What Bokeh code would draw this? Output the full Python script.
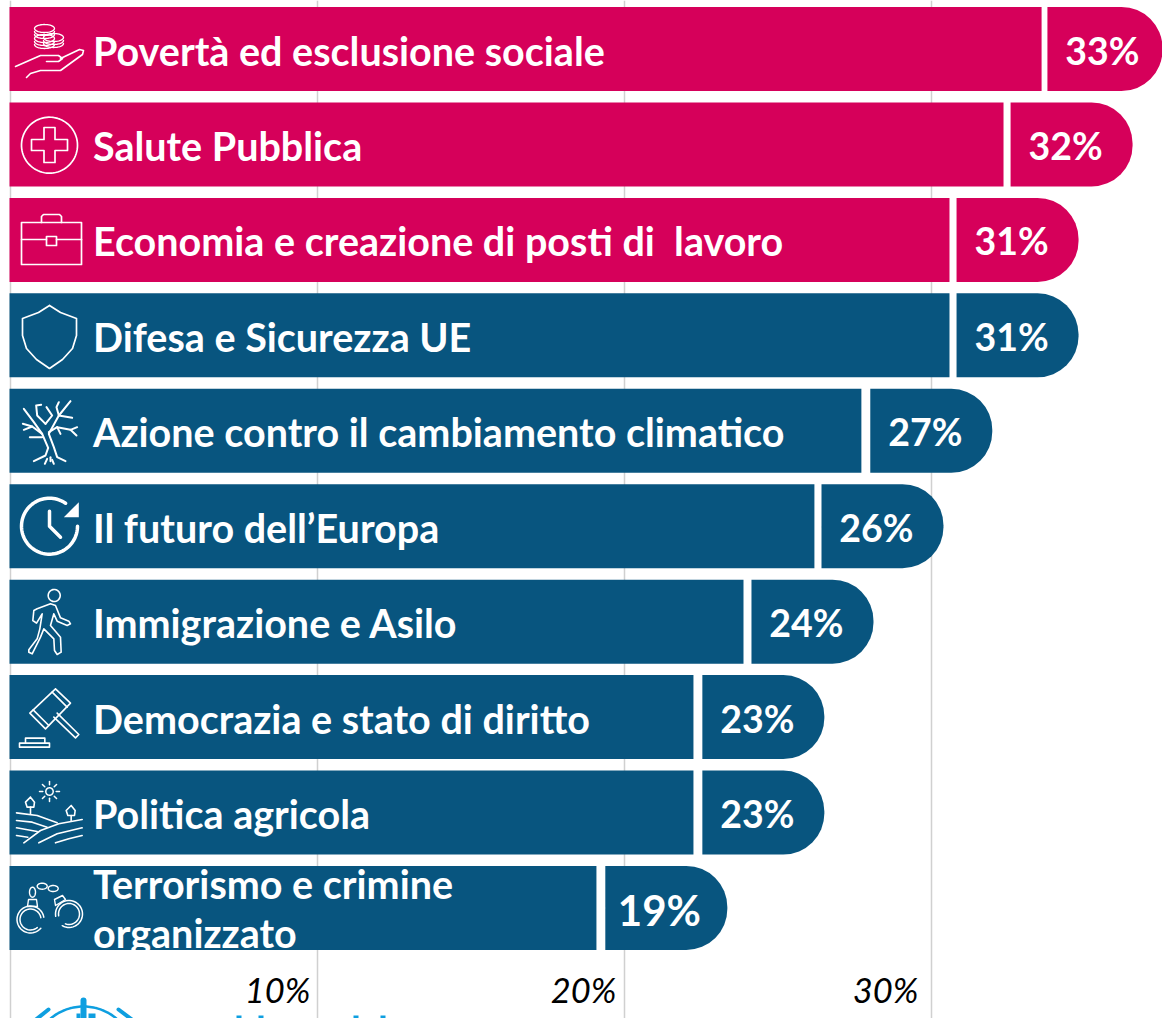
from bokeh.plotting import figure
from bokeh.models import Range1d, FixedTicker, ColumnDataSource
from bokeh.core.properties import value
from bokeh.embed import file_html
from bokeh.resources import INLINE
import numpy as np

# ---- data ----
categories = ["Povertà ed esclusione sociale", "Salute Pubblica",
              "Economia e creazione di posti di \u00a0lavoro", "Difesa e Sicurezza UE",
              "Azione contro il cambiamento climatico", "Il futuro dell’Europa",
              "Immigrazione e Asilo", "Democrazia e stato di diritto",
              "Politica agricola", "Terrorismo e crimine\norganizzato"]
bar_values = [33.57, 32.33, 30.57, 30.57, 27.70, 26.17, 23.86, 22.23, 22.23, 19.07]
cap_starts = [33.76, 32.56, 30.80, 30.80, 27.99, 26.40, 24.12, 22.52, 22.52, 19.36]
value_labels = ["33%", "32%", "31%", "31%", "27%", "26%", "24%", "23%", "23%", "19%"]
highlight = [1, 1, 1, 0, 0, 0, 0, 0, 0, 0]
tick_values = [10, 20, 30]
tick_labels = ["10%", "20%", "30%"]

PINK = "#D6005A"
BLUE = "#08557F"
SKY = "#0E9FE0"
GRID = "#D0D0D0"
FONT = value("Lato")

W, H = 1162, 1018
PX_TOP, PX_LEFT = 0, 0     # page position of the figure
SX, X0 = 30.7, 10.0        # page pixels per % / page x of 0%
SY, Y0 = 95.44, 48.5       # page pixels per row / page y of first row


def dx(px):
    return (np.asarray(px, dtype=float) - X0) / SX


def dy(py):
    return (np.asarray(py, dtype=float) - Y0) / SY


p = figure(width=W, height=H, output_backend="svg", toolbar_location=None,
           x_range=Range1d(float(dx(PX_LEFT)), float(dx(PX_LEFT + W))),
           y_range=Range1d(float(dy(PX_TOP + H)), float(dy(PX_TOP))),
           min_border=0, outline_line_color=None, background_fill_color="white",
           border_fill_color="white")
p.xaxis.visible = False
p.yaxis.visible = False
p.ygrid.visible = False
p.xgrid.ticker = FixedTicker(ticks=[0] + tick_values)
p.xgrid.grid_line_color = GRID
p.xgrid.grid_line_width = 1.5
p.xgrid.bounds = (float(dy(91)), float(dy(1030)))

rows = list(range(len(categories)))
colors = [PINK if h else BLUE for h in highlight]
cap_width = 122 / SX
src = ColumnDataSource(dict(y=rows, end=[v + 0.016 for v in bar_values], left=[float(dx(9))] * len(rows),
                            cap0=[c + 0.016 for c in cap_starts],
                            cap1=[c + 0.016 + cap_width for c in cap_starts],
                            color=colors, lab=value_labels))
p.hbar(y="y", left="left", right="end", height=84 / SY, fill_color="color", line_color=None, source=src)
p.hbar(y="y", left="cap0", right="cap1", height=84 / SY, fill_color="color", line_color=None,
       border_radius=(0, 41, 41, 0), source=src)

# value labels inside the caps (the last one is set larger in the original)
last = len(rows) - 1
p.text(x=src.data["cap0"][:last], y=rows[:last], text=value_labels[:last], text_font=FONT,
       text_font_style="bold", text_font_size="37.5px", text_color="white", text_align="center",
       text_baseline="alphabetic", x_offset=55, y_offset=1)
p.text(x=src.data["cap0"][last:], y=rows[last:], text=value_labels[last:], text_font=FONT,
       text_font_style="bold", text_font_size="42px", text_color="white", text_align="center",
       text_baseline="alphabetic", x_offset=54, y_offset=2)

# category labels
LABEL_SIZE = "39.5px"
for r, cat in zip(rows, categories):
    parts = cat.split("\n")
    if len(parts) == 1:
        p.text(x=[float(dx(92.5))], y=[r], text=[cat], text_font=FONT, text_font_style="bold",
               text_font_size=LABEL_SIZE, text_color="white", text_baseline="alphabetic", y_offset=1)
    else:
        p.text(x=[float(dx(92.5))], y=[r], text=[parts[0]], text_font=FONT, text_font_style="bold",
               text_font_size=LABEL_SIZE, text_color="white", text_baseline="alphabetic", y_offset=-24)
        p.text(x=[float(dx(92.5))], y=[r], text=[parts[1]], text_font=FONT, text_font_style="bold",
               text_font_size=LABEL_SIZE, text_color="white", text_baseline="alphabetic", y_offset=25)
# the second line is clipped by the bar's lower edge in the original
p.quad(left=[float(dx(88))], right=[float(dx(300))], top=[float(dy(950))], bottom=[float(dy(965))],
       fill_color="white", line_color=None)

# tick labels, inside the plot
p.text(x=tick_values, y=[float(dy(989))] * 3, text=tick_labels, text_font=FONT,
       text_font_style="italic", text_font_size="34.5px", text_color="black",
       text_align="right", text_baseline="alphabetic", x_offset=[-7, -8, -13])


# ---- icons: thin white line art, given in page pixels ----
def arc(cx, cy, rx, ry, a0, a1, n=40):
    t = np.radians(np.linspace(a0, a1, n))
    return list(cx + rx * np.cos(t)), list(cy - ry * np.sin(t))


def line(pts, w=1.6, c="white"):
    xs = [q[0] for q in pts]
    ys = [q[1] for q in pts]
    p.line(dx(xs), dy(ys), line_color=c, line_width=w, line_join="round", line_cap="round")


def curve(x, y, w=1.6, c="white"):
    p.line(dx(x), dy(y), line_color=c, line_width=w, line_join="round", line_cap="round")


def zoomed(pts, oy=0, ox=0):
    return [(ox + a / 3, oy + b / 3) for a, b in pts]


# 0: hand and coins
for cx, cy in [(44, 28), (44, 38), (53, 37)]:
    curve(*arc(cx, cy, 10, 4, 0, 360), w=1.3)
    curve(*arc(cx, cy + 3, 10, 4, 180, 360), w=1.3)
    curve(*arc(cx, cy + 6, 10, 4, 180, 360), w=1.3)
line([(15, 66), (40, 55), (58, 55), (62, 58), (58, 61), (46, 61)])
line([(60, 58), (79, 49), (83, 50), (82, 54), (60, 70), (40, 70), (30, 73), (26, 77)])

# 1: cross in a circle
curve(*arc(49, 144.7, 28, 28, 0, 360, 80), w=1.7)
line([(43.5, 127), (54.5, 127), (54.5, 139), (67, 139), (67, 150), (54.5, 150), (54.5, 162),
      (43.5, 162), (43.5, 150), (31, 150), (31, 139), (43.5, 139), (43.5, 127)], w=1.7)

# 2: briefcase
line([(21, 222), (81, 222), (81, 264), (21, 264), (21, 222)], w=1.7)
line([(41, 222), (41, 216), (43, 214), (59, 214), (61, 216), (61, 222)], w=1.7)
line([(21, 239), (46, 239)], w=1.7)
line([(56, 239), (81, 239)], w=1.7)
line([(46, 236), (56, 236), (56, 245), (46, 245), (46, 236)], w=1.7)

# 3: shield
line([(49, 305), (38, 312), (22, 318), (22, 335), (26, 348), (36, 359), (49, 368),
      (62, 359), (72, 348), (76, 335), (76, 318), (60, 312), (49, 305)], w=1.7)

# 4: dead tree
for seg in [[(100, 212), (135, 195), (143, 172), (125, 130), (100, 95), (70, 55)],
            [(195, 212), (170, 200), (160, 170), (145, 130), (175, 75), (210, 32)],
            [(175, 75), (168, 50), (175, 35)], [(175, 75), (215, 82)],
            [(135, 100), (110, 75), (107, 45), (122, 43)], [(135, 100), (155, 75), (138, 50)],
            [(125, 130), (95, 108), (67, 100)], [(95, 108), (70, 118)], [(125, 140), (88, 140)],
            [(145, 125), (170, 110), (210, 118), (230, 110)], [(210, 118), (228, 135)],
            [(170, 110), (180, 130)], [(140, 205), (133, 220)], [(150, 200), (150, 212)],
            [(155, 208), (160, 220)]]:
    line(zoomed(seg, 390), w=2)

# 5: clock
curve(*arc(49, 525.7, 28, 28, 55, 360, 80), w=3.5)
line(zoomed([(147, 392), (147, 437), (180, 470)], 380), w=3.5)
tri = zoomed([(235, 365), (235, 410), (190, 410)], 380)
p.patch(dx([q[0] for q in tri]), dy([q[1] for q in tri]), fill_color="white", line_color=None)

# 6: walking person
curve(*arc(53.7, 595, 6, 6, 0, 360), w=1.6)
line(zoomed([(110, 685), (150, 670), (165, 675), (180, 712), (205, 722), (210, 730), (200, 735),
             (170, 722), (160, 700), (150, 735), (180, 770), (182, 815), (170, 822), (162, 810),
             (160, 775), (130, 745), (120, 770), (95, 820), (85, 815), (85, 808), (110, 775),
             (118, 745), (125, 700), (108, 728), (97, 720), (100, 690), (110, 685)], 380))

# 7: gavel
for seg in [[(165, 925), (210, 968), (135, 1045), (88, 998), (165, 925)], [(155, 935), (200, 980)],
            [(98, 988), (145, 1035)], [(170, 998), (235, 1062), (225, 1072), (160, 1010)],
            [(57, 1088), (147, 1088), (147, 1100), (57, 1100), (57, 1088)],
            [(75, 1088), (75, 1073), (133, 1073), (133, 1088)]]:
    line(zoomed(seg, 380), w=1.6)

# 8: fields, plants and sun
sun_x, sun_y = arc(49, 791, 3.7, 3.7, 0, 360)
curve(sun_x, sun_y, w=1.5)
for ang in range(0, 360, 45):
    c, s = np.cos(np.radians(ang)), np.sin(np.radians(ang))
    line(zoomed([(147 + 20 * c, 78 - 20 * s), (147 + 30 * c, 78 - 30 * s)], 765), w=1.5)
for seg in [[(90, 145), (90, 125)], [(90, 95), (102, 110), (100, 125), (80, 125), (75, 110), (90, 95)],
            [(212, 165), (212, 150)], [(212, 120), (224, 135), (222, 150), (202, 150), (197, 135), (212, 120)],
            [(48, 142), (110, 150), (170, 172)], [(48, 165), (95, 170), (140, 185)],
            [(48, 187), (110, 198)], [(48, 210), (82, 215)],
            [(70, 232), (120, 195), (175, 175), (245, 162)], [(115, 232), (170, 205), (245, 187)],
            [(165, 232), (205, 220), (245, 210)]]:
    line(zoomed(seg, 765), w=1.6)

# 9: handcuffs
cuffs = [(30, 919, 13.5, 10, 320), (30, 919, 10.5, 10, 310), (68.5, 913.5, 13.5, -120, 190),
         (68.5, 913.5, 10.5, -110, 190)]
for cx, cy, r, a0, a1 in cuffs:
    curve(*arc(cx, cy, r, r, a0, a1), w=1.5)
for cx, cy, rx, ry in [(32, 891.7, 3, 5), (41.7, 885.7, 5, 3), (52.7, 888, 5, 3)]:
    curve(*arc(cx, cy, rx, ry, 0, 360), w=1.4)
line([(27, 906), (37, 906), (36, 899), (28, 899), (27, 906)], w=1.4)
line([(55, 905), (65, 899), (62, 895), (54, 899), (55, 905)], w=1.4)

# ---- emblem and letter tops clipped by the lower edge ----
curve(*arc(83, 1057, 51, 51, 50, 130), w=2.5, c=SKY)
line([(83, 1000), (83, 1030)], w=6, c=SKY)
p.quad(left=dx([76, 88]), right=dx([80, 95]), top=dy([1013, 1013]), bottom=dy([1030, 1030]),
       fill_color=SKY, line_color=None)
line([(33, 1021), (48, 1009)], w=4, c=SKY)
line([(134, 1021), (118, 1009)], w=4, c=SKY)
p.quad(left=dx([236, 258, 353, 380]), right=dx([241, 263, 358, 385]),
       top=dy([1015] * 4), bottom=dy([1030] * 4), fill_color=SKY, line_color=None)

open("out.html", "w").write(file_html(p, INLINE))
